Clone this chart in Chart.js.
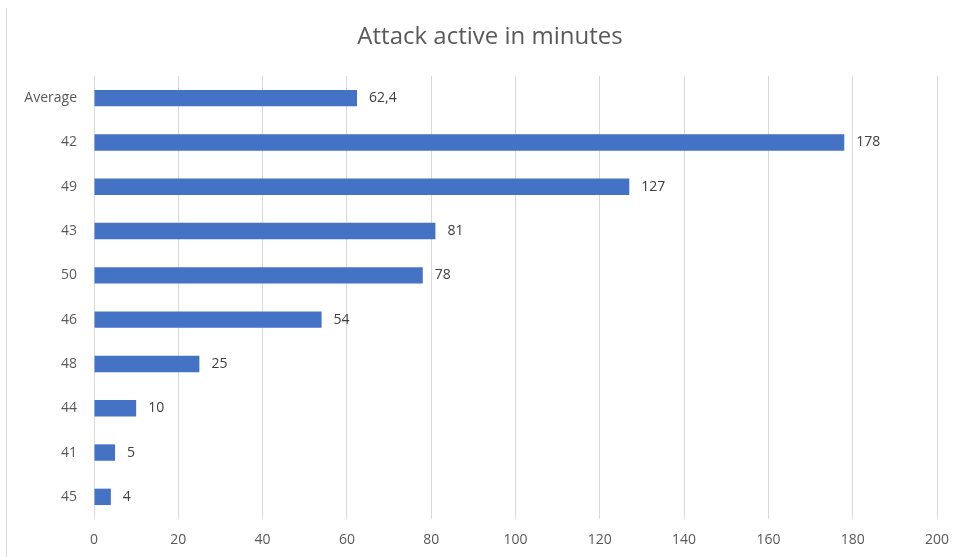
<!DOCTYPE html>
<html>
<head>
<meta charset="utf-8">
<script src="https://cdn.jsdelivr.net/npm/chart.js@4.4.1/dist/chart.umd.min.js"></script>
<style>
  html, body { margin: 0; padding: 0; background: #fff; }
  #wrap { position: relative; width: 966px; height: 557px; }
  #frame { position: absolute; left: 6px; top: 8px; bottom: 0; border-left: 1px solid #d9d9d9; }
</style>
</head>
<body>
<div id="wrap">
  <div id="frame"></div>
  <canvas id="attackChart" width="966" height="557"></canvas>
</div>
<script>
let chartTitle = 'Attack active in minutes';
let categories = ['Average', '42', '49', '43', '50', '46', '48', '44', '41', '45'];
let minutes = [62.4, 178, 127, 81, 78, 54, 25, 10, 5, 4];
let valueLabels = ['62,4', '178', '127', '81', '78', '54', '25', '10', '5', '4'];
let xTicks = [0, 20, 40, 60, 80, 100, 120, 140, 160, 180, 200];

const FONT = "'Open Sans', sans-serif";

// title drawn by hand so it can sit a bit left of the plot centre
const titlePlugin = {
    id: 'titleText',
    afterDraw(chart) {
        const ctx = chart.ctx;
        ctx.save();
        ctx.font = '24px ' + FONT;
        ctx.fillStyle = '#595959';
        ctx.textAlign = 'center';
        ctx.textBaseline = 'middle';
        ctx.fillText(chartTitle, 490, 37);
        ctx.restore();
    }
};

// numbers to the right of each bar
const barValues = {
    id: 'barValues',
    afterDatasetsDraw(chart) {
        const ctx = chart.ctx;
        const meta = chart.getDatasetMeta(0);
        ctx.save();
        ctx.font = '14px ' + FONT;
        ctx.fillStyle = '#404040';
        ctx.textAlign = 'left';
        ctx.textBaseline = 'middle';
        meta.data.forEach((bar, i) => {
            ctx.fillText(valueLabels[i], bar.x + 12, bar.y);
        });
        ctx.restore();
    }
};

var data = {
    labels: categories,
    datasets: [{
        label: chartTitle,
        data: minutes,
        backgroundColor: '#4472C4',
        borderWidth: 0,
        categoryPercentage: 1,
        barPercentage: 0.37
    }]
};

var config = {
    type: 'bar',
    data,
    options: {
        indexAxis: 'y',
        responsive: false,
        animation: false,
        layout: { padding: { top: 76, right: 29, left: 0, bottom: 0 } },
        plugins: {
            legend: { display: false },
            title: { display: false },
            tooltip: { enabled: false }
        },
        scales: {
            x: {
                min: 0,
                max: 200,
                afterBuildTicks: (axis) => { axis.ticks = xTicks.map(v => ({ value: v })); },
                afterFit: (axis) => { axis.height = 38; },
                grid: { color: '#d9d9d9', drawTicks: false },
                border: { display: false },
                ticks: { color: '#595959', font: { family: FONT, size: 14 }, padding: 13 }
            },
            y: {
                afterFit: (axis) => { axis.width = 94; },
                grid: { display: false, drawTicks: false },
                border: { display: false },
                ticks: { color: '#595959', font: { family: FONT, size: 14 }, padding: 17 }
            }
        }
    },
    plugins: [titlePlugin, barValues]
};

const attackChart = new Chart(document.getElementById('attackChart'), config);
</script>
</body>
</html>
